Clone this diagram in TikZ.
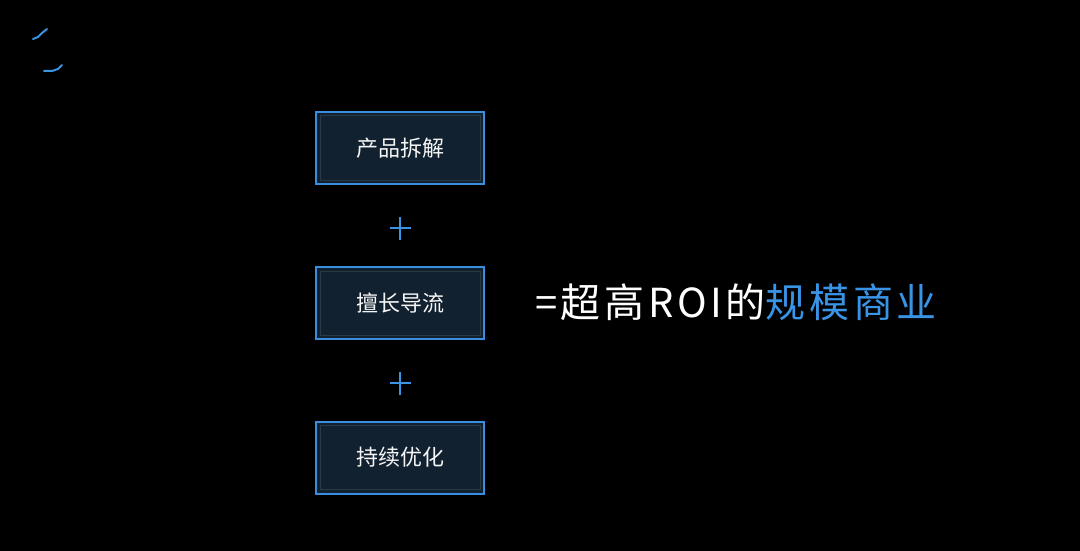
\documentclass[tikz,border=0pt]{standalone}
\usepackage{fontspec}
\newfontfamily\cjk{Noto Sans CJK SC}
\newfontfamily\cjkwide[LetterSpace=9]{Noto Sans CJK SC}
\definecolor{bluebdr}{HTML}{3A8EE0}
\definecolor{boxfill}{HTML}{11212F}
\definecolor{innerl}{HTML}{2A3A44}
\definecolor{hl}{HTML}{3A94E6}
\begin{document}
\begin{tikzpicture}[x=1pt,y=-1pt,
  stepbox/.style={draw=bluebdr,line width=2pt,fill=boxfill,minimum width=168pt,minimum height=72pt,inner sep=0pt,
    font=\cjk\fontsize{22}{26}\selectfont,text=white!92!gray},
  plusarm/.style={draw=hl,line width=1.3pt}]
\fill[black] (0,0) rectangle (1080,551);
\useasboundingbox (0,0) rectangle (1080,551);
% logo strokes
\draw[hl,line width=2pt,line cap=round] (33,39) -- (38,37) -- (42,33) -- (47,29);
\draw[hl,line width=2pt,line cap=round] (44,71) -- (52,71) -- (58,69) -- (62,65);
% boxes
\node[stepbox] (a) at (400,148) {产品拆解};
\node[stepbox] (b) at (400,303) {擅长导流};
\node[stepbox] (c) at (400,457.5) {持续优化};
\foreach \n in {a,b,c}{
  \draw[innerl,line width=1pt] ([xshift=5pt,yshift=-5pt]\n.north west) rectangle ([xshift=-5pt,yshift=5pt]\n.south east);
}
% plus signs
\coordinate (p1) at (400,228);
\coordinate (p2) at (400,383);
\foreach \p in {p1,p2}{
  \draw[plusarm] ([xshift=-10.5pt]\p) -- ([xshift=10.5pt]\p);
  \draw[plusarm] ([yshift=-11.5pt]\p) -- ([yshift=11.5pt]\p);
}
% result text
\node[anchor=west,inner sep=0pt,font=\cjkwide\fontsize{40}{46}\selectfont,text=white] (r) at (535,302)
  {=超高ROI的\textcolor{hl}{规模商业}};
\end{tikzpicture}
\end{document}
